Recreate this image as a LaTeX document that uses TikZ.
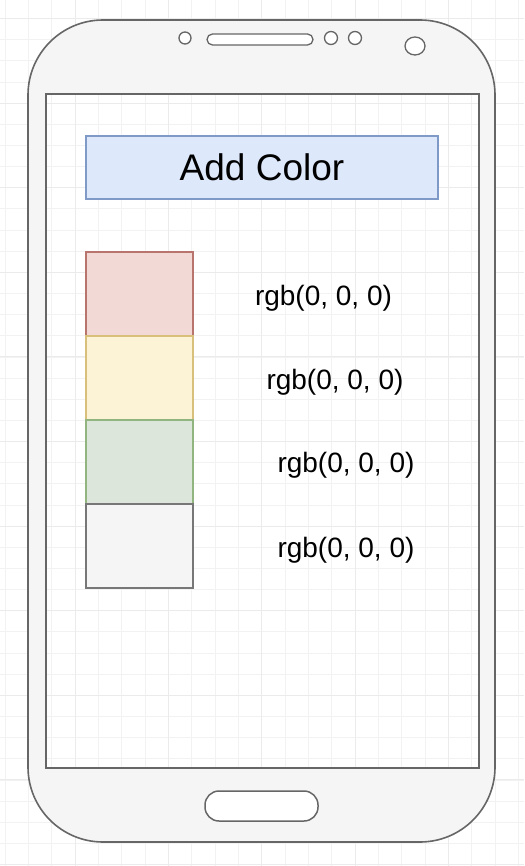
\documentclass[tikz,border=0pt]{standalone}
\usepackage{fontspec}
\setmainfont{Liberation Sans}
\usetikzlibrary{positioning}

\definecolor{bezel}{HTML}{F5F5F5}
\definecolor{edge}{HTML}{666666}
\definecolor{addfill}{HTML}{DDE8FA}
\definecolor{addline}{HTML}{7F9AC6}
\definecolor{redfill}{HTML}{F2D9D5}
\definecolor{redline}{HTML}{B8756E}
\definecolor{yellowfill}{HTML}{FCF2D6}
\definecolor{yellowline}{HTML}{D8C07A}
\definecolor{greenfill}{HTML}{DDE6DA}
\definecolor{greenline}{HTML}{92B47E}
\definecolor{grayfill}{HTML}{F5F5F5}
\definecolor{grayline}{HTML}{777777}

\begin{document}
\begin{tikzpicture}[x=1pt,y=-1pt,
    gridminor/.style={draw=black!5, line width=0.6pt},
    gridmajor/.style={draw=black!8, line width=0.8pt},
    hole/.style={draw=edge, fill=white, line width=1.3pt},
    swatch/.style={draw, line width=1.3pt, minimum width=107pt, minimum height=84pt, inner sep=0pt, outer sep=0pt},
    rgblabel/.style={font=\fontsize{28}{32}\selectfont, inner sep=0pt}]

    % Background and grid
    \fill[white] (0,0) rectangle (524,866);
    \useasboundingbox (0,0) rectangle (524,866);
    \foreach \k in {-3,...,19}
        \draw[gridminor] ({75+23.333*\k},0) -- ({75+23.333*\k},866);
    \foreach \k in {-4,...,36}
        \draw[gridminor] (0,{103+21.15*\k}) -- (524,{103+21.15*\k});
    \foreach \k in {0,...,5}
        \draw[gridmajor] ({75+93.333*\k},0) -- ({75+93.333*\k},866);
    \foreach \k in {-1,...,9}
        \draw[gridmajor] (0,{103+84.6*\k}) -- (524,{103+84.6*\k});

    % Phone body
    \fill[bezel, even odd rule] [rounded corners=75pt] (28,20) rectangle (495,842)
        [sharp corners] (46,94) rectangle (479,768);
    \draw[edge, line width=1.6pt, rounded corners=75pt] (28,20) rectangle (495,842);

    % Screen
    \draw[edge, line width=2pt] (46,94) rectangle (479,768);

    % Sensors, speaker and camera
    \draw[hole] (185,38) circle [radius=6];
    \draw[hole, rounded corners=5.5pt] (207,34) rectangle (313,45);
    \draw[hole] (331,38) circle [radius=6.5];
    \draw[hole] (355,38) circle [radius=6.5];
    \draw[hole] (415,46) ellipse [x radius=10, y radius=9];

    % Home button
    \draw[hole, line width=1.5pt, rounded corners=14pt] (205,791) rectangle (318,821);

    % Add Color button
    \node[draw=addline, fill=addfill, line width=1.3pt, minimum width=352pt, minimum height=63pt,
          inner sep=0pt, font=\fontsize{37}{42}\selectfont] (addcolor) at (262,167.5) {Add Color};

    % Colour swatches
    \node[swatch, draw=redline, fill=redfill] (red) at (139.5,294) {};
    \node[swatch, draw=yellowline, fill=yellowfill, below=0pt of red] (yellow) {};
    \node[swatch, draw=greenline, fill=greenfill, below=0pt of yellow] (green) {};
    \node[swatch, draw=grayline, fill=grayfill, below=0pt of green] (gray) {};

    % Values
    \node[rgblabel] (redval) at (323.5,298) {rgb(0, 0, 0)};
    \node[rgblabel] (yellowval) at (335,382) {rgb(0, 0, 0)};
    \node[rgblabel] (greenval) at (346,465) {rgb(0, 0, 0)};
    \node[rgblabel] (grayval) at (346,550) {rgb(0, 0, 0)};
\end{tikzpicture}
\end{document}
